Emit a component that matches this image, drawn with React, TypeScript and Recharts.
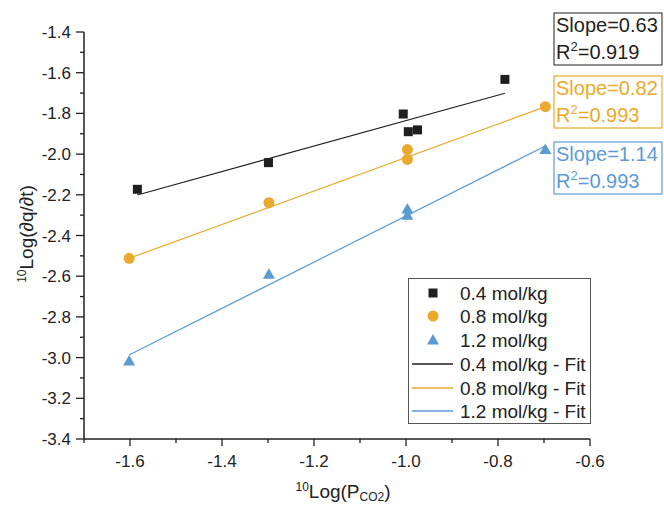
import React from "react";
import {
  ScatterChart,
  Scatter,
  XAxis,
  YAxis,
  Legend,
  Customized,
} from "recharts";

// measured points, 10Log(P_CO2) vs 10Log(dq/dt)
const x04 = [-1.584, -1.299, -1.006, -0.995, -0.975, -0.785];
const y04 = [-2.173, -2.042, -1.803, -1.89, -1.881, -1.633];
const x08 = [-1.602, -1.298, -0.997, -0.997, -0.697];
const y08 = [-2.512, -2.239, -1.978, -2.026, -1.767];
const x12 = [-1.602, -1.298, -0.997, -0.997, -0.697];
const y12 = [-3.017, -2.591, -2.27, -2.3, -1.977];

// fitted line end points
const fit04X = [-1.584, -0.785];
const fit04Y = [-2.201, -1.701];
const fit08X = [-1.602, -0.697];
const fit08Y = [-2.512, -1.767];
const fit12X = [-1.602, -0.697];
const fit12Y = [-2.987, -1.96];

const seriesNames = ["0.4 mol/kg", "0.8 mol/kg", "1.2 mol/kg"];
const slopes = ["0.63", "0.82", "1.14"];
const r2s = ["0.919", "0.993", "0.993"];

const xMajor = [-1.6, -1.4, -1.2, -1.0, -0.8, -0.6];
const xMinor = [-1.7, -1.5, -1.3, -1.1, -0.9, -0.7];
const yMajor = [-3.4, -3.2, -3.0, -2.8, -2.6, -2.4, -2.2, -2.0, -1.8, -1.6, -1.4];
const yMinor = [-3.3, -3.1, -2.9, -2.7, -2.5, -2.3, -2.1, -1.9, -1.7, -1.5];

const BLACK = "#1f1f1f";
const ORANGE = "#e9a92c";
const BLUE = "#5a9bd4";
const COLORS = [BLACK, ORANGE, BLUE];
const FONT = '"Liberation Sans", Arial, sans-serif';

const zip = (xs: number[], ys: number[]) => xs.map((x, i) => ({ x, y: ys[i] }));
const isMajor = (v: number, list: number[]) => list.some((m) => Math.abs(m - v) < 1e-6);

const Square = (p: any) => (
  <rect x={p.cx - 4.5} y={p.cy - 4.5} width={9} height={9} fill={BLACK} />
);
const Dot = (p: any) => <circle cx={p.cx} cy={p.cy} r={5.5} fill={ORANGE} />;
const Tri = (p: any) => (
  <polygon
    points={`${p.cx},${p.cy - 6} ${p.cx + 6},${p.cy + 4.5} ${p.cx - 6},${p.cy + 4.5}`}
    fill={BLUE}
  />
);
const NoMark = () => <g />;

const YTick = ({ x, y, payload }: any) => {
  const major = isMajor(payload.value, yMajor);
  return (
    <g>
      <line x1={x - (major ? 8 : 4)} x2={x} y1={y} y2={y} stroke={BLACK} strokeWidth={1.3} />
      {major && (
        <text x={x - 13} y={y} dy={6} textAnchor="end" fontSize={17} fill="#222" fontFamily={FONT}>
          {payload.value.toFixed(1)}
        </text>
      )}
    </g>
  );
};

const XTick = ({ x, y, payload }: any) => {
  const major = isMajor(payload.value, xMajor);
  return (
    <g>
      <line x1={x} x2={x} y1={y} y2={y + (major ? 7 : 4)} stroke={BLACK} strokeWidth={1.3} />
      {major && (
        <text x={x} y={y + 28} textAnchor="middle" fontSize={17} fill="#222" fontFamily={FONT}>
          {payload.value.toFixed(1)}
        </text>
      )}
    </g>
  );
};

const boxTops = [13, 76, 142];

const Annotations = () => (
  <g fontFamily={FONT}>
    {slopes.map((s, i) => (
      <g key={s + i}>
        <rect x={554} y={boxTops[i]} width={108} height={52} fill="#fff" stroke={i === 0 ? "#444" : COLORS[i]} strokeWidth={1.2} />
        <text x={556} y={boxTops[i] + 19} fontSize={20} fill={COLORS[i]}>
          Slope={s}
        </text>
        <text x={556} y={boxTops[i] + 46} fontSize={20} fill={COLORS[i]}>
          R<tspan dy={-8} fontSize={13}>2</tspan>
          <tspan dy={8}>={r2s[i]}</tspan>
        </text>
      </g>
    ))}
    <text
      x={33}
      y={234}
      transform="rotate(-90, 33, 234)"
      textAnchor="middle"
      fontSize={19}
      fill="#222"
    >
      <tspan fontSize={12} dy={-7}>10</tspan>
      <tspan dy={7}>Log(∂q/∂t)</tspan>
    </text>
    <text x={343} y={498} textAnchor="middle" fontSize={19} fill="#222">
      <tspan fontSize={12} dy={-7}>10</tspan>
      <tspan dy={7}>Log(P</tspan>
      <tspan fontSize={12} dy={3}>CO2</tspan>
      <tspan dy={-3}>)</tspan>
    </text>
  </g>
);

const rowY = [15, 38, 62, 86, 110, 133];

const LegendBox = () => {
  const shapes = [
    <rect x={20.5} y={rowY[0] - 4.5} width={9} height={9} fill={BLACK} />,
    <circle cx={25} cy={rowY[1]} r={5.5} fill={ORANGE} />,
    <polygon points={`25,${rowY[2] - 6} 31,${rowY[2] + 4.5} 19,${rowY[2] + 4.5}`} fill={BLUE} />,
  ];
  return (
    <svg width={183} height={146} style={{ display: "block" }}>
      <rect x={0.5} y={0.5} width={182} height={145} fill="#fff" stroke="#555" strokeWidth={1} />
      {seriesNames.map((n, i) => (
        <g key={n}>
          {shapes[i]}
          <text x={52} y={rowY[i] + 7} fontSize={19} fill="#222" fontFamily={FONT}>
            {n}
          </text>
        </g>
      ))}
      {seriesNames.map((n, i) => (
        <g key={n + "fit"}>
          <line x1={4} x2={45} y1={rowY[i + 3]} y2={rowY[i + 3]} stroke={COLORS[i]} strokeWidth={1.3} />
          <text x={52} y={rowY[i + 3] + 7} fontSize={19} fill="#222" fontFamily={FONT}>
            {n} - Fit
          </text>
        </g>
      ))}
    </svg>
  );
};

export default function App() {
  return (
    <div style={{ position: "absolute", left: 0, top: 0, background: "#fff" }}>
      <ScatterChart width={664} height={506} margin={{ top: 32, right: 74, left: 0, bottom: 0 }}>
        <XAxis
          type="number"
          dataKey="x"
          domain={[-1.7, -0.6]}
          ticks={[...xMinor, ...xMajor].sort((a, b) => a - b)}
          interval={0}
          allowDataOverflow
          height={67}
          tickSize={0}
          tickMargin={0}
          tick={<XTick />}
          axisLine={{ stroke: BLACK, strokeWidth: 1.5 }}
        />
        <YAxis
          type="number"
          dataKey="y"
          domain={[-3.4, -1.4]}
          ticks={[...yMinor, ...yMajor].sort((a, b) => a - b)}
          interval={0}
          allowDataOverflow
          width={84}
          tickSize={0}
          tickMargin={0}
          tick={<YTick />}
          axisLine={{ stroke: BLACK, strokeWidth: 1.5 }}
        />
        <Scatter data={zip(fit04X, fit04Y)} line={{ stroke: BLACK, strokeWidth: 1.2 }} shape={NoMark} isAnimationActive={false} legendType="none" />
        <Scatter data={zip(fit08X, fit08Y)} line={{ stroke: ORANGE, strokeWidth: 1.2 }} shape={NoMark} isAnimationActive={false} legendType="none" />
        <Scatter data={zip(fit12X, fit12Y)} line={{ stroke: BLUE, strokeWidth: 1.2 }} shape={NoMark} isAnimationActive={false} legendType="none" />
        <Scatter name={seriesNames[0]} data={zip(x04, y04)} shape={Square} isAnimationActive={false} />
        <Scatter name={seriesNames[1]} data={zip(x08, y08)} shape={Dot} isAnimationActive={false} />
        <Scatter name={seriesNames[2]} data={zip(x12, y12)} shape={Tri} isAnimationActive={false} />
        <Customized component={Annotations} />
        <Legend
          layout="vertical"
          align="center"
          verticalAlign="middle"
          content={<LegendBox />}
          wrapperStyle={{ left: 408, top: 278, width: 183, height: 146 }}
        />
      </ScatterChart>
    </div>
  );
}
